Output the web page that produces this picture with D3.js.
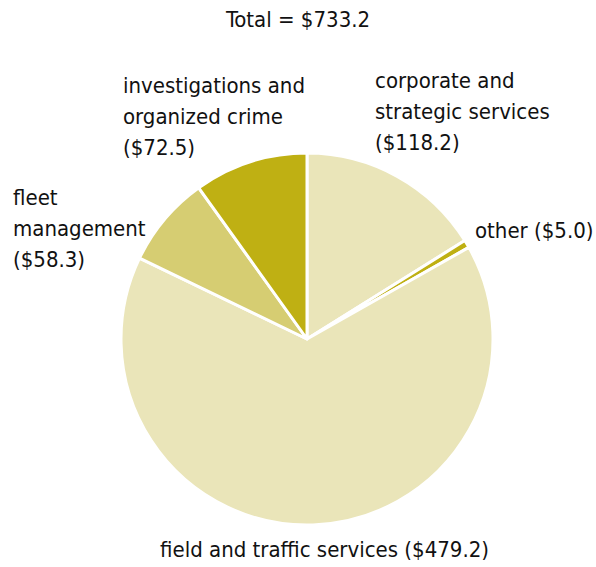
<!DOCTYPE html>
<html>
<head>
<meta charset="utf-8">
<script src="https://cdn.jsdelivr.net/npm/d3@7/dist/d3.min.js"></script>
<style>
  html, body { margin: 0; padding: 0; background: #fff; }
  text { font-family: "DejaVu Sans Condensed", "DejaVu Sans", sans-serif; font-stretch: condensed; fill: #111; }
</style>
</head>
<body>
<svg id="chart" width="596" height="567"></svg>
<script>
// Budget by program area ($ millions), clockwise from 12 o'clock
const categories = ["corporate and strategic services", "other", "field and traffic services", "fleet management", "investigations and organized crime"];
const values = [118.2, 5.0, 479.2, 58.3, 72.5];
const colors = ["#eae5b9", "#bfb013", "#eae5b9", "#d6cd72", "#bfb013"];
const totalLabel = "Total = $733.2";

// Label lines and anchor positions for each slice
const labelLines = [
  ["corporate and", "strategic services", "($118.2)"],
  ["other ($5.0)"],
  ["field and traffic services ($479.2)"],
  ["fleet", "management", "($58.3)"],
  ["investigations and", "organized crime", "($72.5)"]
];
const labelPos = [
  [375, 88], [475, 238], [160, 557], [13, 205], [123, 93]
];

const svg = d3.select("#chart");
const cx = 307, cy = 339, r = 186;

const pie = d3.pie().sort(null).value(d => d)(values);
const arc = d3.arc().innerRadius(0).outerRadius(r);

const g = svg.append("g").attr("transform", `translate(${cx},${cy})`);
g.selectAll("path")
  .data(pie)
  .join("path")
  .attr("d", arc)
  .attr("fill", (d, i) => colors[i])
  .attr("stroke", "#fff")
  .attr("stroke-width", 3)
  .attr("stroke-linejoin", "round");

svg.append("text")
  .attr("x", 298).attr("y", 27)
  .attr("text-anchor", "middle")
  .attr("font-size", 22)
  .text(totalLabel);

labelLines.forEach((lines, i) => {
  const t = svg.append("text")
    .attr("x", labelPos[i][0]).attr("y", labelPos[i][1])
    .attr("font-size", 22);
  lines.forEach((ln, j) => {
    t.append("tspan").attr("x", labelPos[i][0]).attr("dy", j === 0 ? 0 : 31).text(ln);
  });
});
</script>
</body>
</html>
